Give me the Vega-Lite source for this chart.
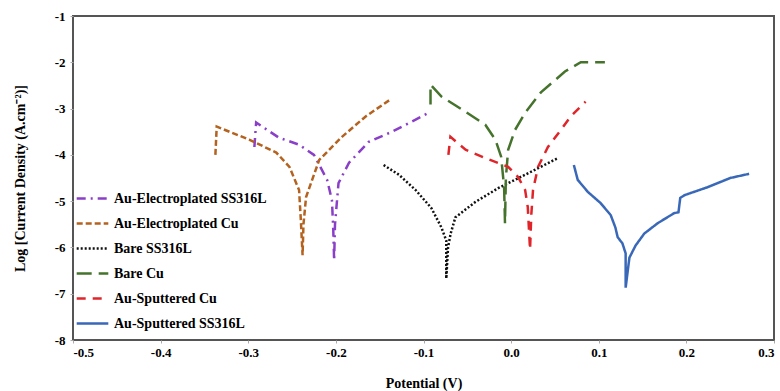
{
  "$schema": "https://vega.github.io/schema/vega-lite/v6.json",
  "width": 701,
  "height": 324,
  "autosize": "none",
  "padding": {"left": 73, "top": 16, "right": 6, "bottom": 51},
  "background": "white",
  "config": {
    "font": "Liberation Serif",
    "view": {"stroke": "#555555", "strokeWidth": 2},
    "axis": {"grid": false, "domain": false, "labelFont": "Liberation Serif", "labelFontWeight": "bold", "labelFontSize": 13, "labelColor": "#000", "titleFont": "Liberation Serif", "titleFontWeight": "bold", "titleColor": "#000", "tickColor": "#aaaaaa", "tickSize": 3, "labelExpr": "replace(datum.label, '−', '-')"}
  },
  "data": {"values": [
    {"s": "Au-Electroplated SS316L", "i": 1, "x": -0.293, "y": -3.83},
    {"s": "Au-Electroplated SS316L", "i": 2, "x": -0.291, "y": -3.30},
    {"s": "Au-Electroplated SS316L", "i": 3, "x": -0.265, "y": -3.63},
    {"s": "Au-Electroplated SS316L", "i": 4, "x": -0.242, "y": -3.78},
    {"s": "Au-Electroplated SS316L", "i": 5, "x": -0.225, "y": -4.0},
    {"s": "Au-Electroplated SS316L", "i": 6, "x": -0.210, "y": -4.54},
    {"s": "Au-Electroplated SS316L", "i": 7, "x": -0.2045, "y": -4.98},
    {"s": "Au-Electroplated SS316L", "i": 8, "x": -0.203, "y": -5.6},
    {"s": "Au-Electroplated SS316L", "i": 9, "x": -0.202, "y": -6.28},
    {"s": "Au-Electroplated SS316L", "i": 10, "x": -0.201, "y": -5.5},
    {"s": "Au-Electroplated SS316L", "i": 11, "x": -0.197, "y": -4.61},
    {"s": "Au-Electroplated SS316L", "i": 12, "x": -0.185, "y": -4.17},
    {"s": "Au-Electroplated SS316L", "i": 13, "x": -0.1625, "y": -3.72},
    {"s": "Au-Electroplated SS316L", "i": 14, "x": -0.136, "y": -3.5},
    {"s": "Au-Electroplated SS316L", "i": 15, "x": -0.109, "y": -3.24},
    {"s": "Au-Electroplated SS316L", "i": 16, "x": -0.092, "y": -3.07},

    {"s": "Au-Electroplated Cu", "i": 1, "x": -0.3375, "y": -4.0},
    {"s": "Au-Electroplated Cu", "i": 2, "x": -0.336, "y": -3.39},
    {"s": "Au-Electroplated Cu", "i": 3, "x": -0.299, "y": -3.67},
    {"s": "Au-Electroplated Cu", "i": 4, "x": -0.268, "y": -3.95},
    {"s": "Au-Electroplated Cu", "i": 5, "x": -0.253, "y": -4.26},
    {"s": "Au-Electroplated Cu", "i": 6, "x": -0.242, "y": -4.76},
    {"s": "Au-Electroplated Cu", "i": 7, "x": -0.240, "y": -5.4},
    {"s": "Au-Electroplated Cu", "i": 8, "x": -0.238, "y": -6.17},
    {"s": "Au-Electroplated Cu", "i": 9, "x": -0.237, "y": -5.5},
    {"s": "Au-Electroplated Cu", "i": 10, "x": -0.234, "y": -4.91},
    {"s": "Au-Electroplated Cu", "i": 11, "x": -0.219, "y": -4.11},
    {"s": "Au-Electroplated Cu", "i": 12, "x": -0.193, "y": -3.61},
    {"s": "Au-Electroplated Cu", "i": 13, "x": -0.166, "y": -3.17},
    {"s": "Au-Electroplated Cu", "i": 14, "x": -0.1375, "y": -2.80},

    {"s": "Bare SS316L", "i": 1, "x": -0.1455, "y": -4.22},
    {"s": "Bare SS316L", "i": 2, "x": -0.128, "y": -4.43},
    {"s": "Bare SS316L", "i": 3, "x": -0.109, "y": -4.76},
    {"s": "Bare SS316L", "i": 4, "x": -0.091, "y": -5.15},
    {"s": "Bare SS316L", "i": 5, "x": -0.0795, "y": -5.57},
    {"s": "Bare SS316L", "i": 6, "x": -0.074, "y": -5.85},
    {"s": "Bare SS316L", "i": 7, "x": -0.074, "y": -6.67},
    {"s": "Bare SS316L", "i": 8, "x": -0.072, "y": -6.0},
    {"s": "Bare SS316L", "i": 9, "x": -0.069, "y": -5.7},
    {"s": "Bare SS316L", "i": 10, "x": -0.0636, "y": -5.35},
    {"s": "Bare SS316L", "i": 11, "x": -0.041, "y": -5.02},
    {"s": "Bare SS316L", "i": 12, "x": -0.0148, "y": -4.72},
    {"s": "Bare SS316L", "i": 13, "x": 0.016, "y": -4.43},
    {"s": "Bare SS316L", "i": 14, "x": 0.0534, "y": -4.07},

    {"s": "Bare Cu", "i": 1, "x": -0.092, "y": -2.91},
    {"s": "Bare Cu", "i": 2, "x": -0.092, "y": -2.48},
    {"s": "Bare Cu", "i": 3, "x": -0.0795, "y": -2.74},
    {"s": "Bare Cu", "i": 4, "x": -0.052, "y": -3.07},
    {"s": "Bare Cu", "i": 5, "x": -0.0295, "y": -3.35},
    {"s": "Bare Cu", "i": 6, "x": -0.018, "y": -3.67},
    {"s": "Bare Cu", "i": 7, "x": -0.0114, "y": -4.04},
    {"s": "Bare Cu", "i": 8, "x": -0.008, "y": -4.7},
    {"s": "Bare Cu", "i": 9, "x": -0.007, "y": -5.48},
    {"s": "Bare Cu", "i": 10, "x": -0.006, "y": -4.5},
    {"s": "Bare Cu", "i": 11, "x": -0.0034, "y": -3.89},
    {"s": "Bare Cu", "i": 12, "x": 0.0045, "y": -3.46},
    {"s": "Bare Cu", "i": 13, "x": 0.016, "y": -3.09},
    {"s": "Bare Cu", "i": 14, "x": 0.034, "y": -2.65},
    {"s": "Bare Cu", "i": 15, "x": 0.0614, "y": -2.20},
    {"s": "Bare Cu", "i": 16, "x": 0.0795, "y": -2.0},
    {"s": "Bare Cu", "i": 17, "x": 0.107, "y": -2.0},

    {"s": "Au-Sputtered Cu", "i": 1, "x": -0.0716, "y": -4.0},
    {"s": "Au-Sputtered Cu", "i": 2, "x": -0.0693, "y": -3.61},
    {"s": "Au-Sputtered Cu", "i": 3, "x": -0.052, "y": -3.89},
    {"s": "Au-Sputtered Cu", "i": 4, "x": -0.0295, "y": -4.07},
    {"s": "Au-Sputtered Cu", "i": 5, "x": -0.0034, "y": -4.26},
    {"s": "Au-Sputtered Cu", "i": 6, "x": 0.008, "y": -4.48},
    {"s": "Au-Sputtered Cu", "i": 7, "x": 0.016, "y": -4.76},
    {"s": "Au-Sputtered Cu", "i": 8, "x": 0.019, "y": -5.13},
    {"s": "Au-Sputtered Cu", "i": 9, "x": 0.0216, "y": -6.05},
    {"s": "Au-Sputtered Cu", "i": 10, "x": 0.023, "y": -5.3},
    {"s": "Au-Sputtered Cu", "i": 11, "x": 0.025, "y": -4.76},
    {"s": "Au-Sputtered Cu", "i": 12, "x": 0.0307, "y": -4.26},
    {"s": "Au-Sputtered Cu", "i": 13, "x": 0.042, "y": -3.83},
    {"s": "Au-Sputtered Cu", "i": 14, "x": 0.0568, "y": -3.46},
    {"s": "Au-Sputtered Cu", "i": 15, "x": 0.068, "y": -3.17},
    {"s": "Au-Sputtered Cu", "i": 16, "x": 0.085, "y": -2.85},

    {"s": "Au-Sputtered SS316L", "i": 1, "x": 0.0716, "y": -4.22},
    {"s": "Au-Sputtered SS316L", "i": 2, "x": 0.076, "y": -4.54},
    {"s": "Au-Sputtered SS316L", "i": 3, "x": 0.0875, "y": -4.80},
    {"s": "Au-Sputtered SS316L", "i": 4, "x": 0.102, "y": -5.04},
    {"s": "Au-Sputtered SS316L", "i": 5, "x": 0.1136, "y": -5.30},
    {"s": "Au-Sputtered SS316L", "i": 6, "x": 0.119, "y": -5.57},
    {"s": "Au-Sputtered SS316L", "i": 7, "x": 0.1216, "y": -5.78},
    {"s": "Au-Sputtered SS316L", "i": 8, "x": 0.127, "y": -5.91},
    {"s": "Au-Sputtered SS316L", "i": 9, "x": 0.1307, "y": -6.13},
    {"s": "Au-Sputtered SS316L", "i": 10, "x": 0.1307, "y": -6.87},
    {"s": "Au-Sputtered SS316L", "i": 11, "x": 0.135, "y": -6.22},
    {"s": "Au-Sputtered SS316L", "i": 12, "x": 0.142, "y": -5.96},
    {"s": "Au-Sputtered SS316L", "i": 13, "x": 0.152, "y": -5.70},
    {"s": "Au-Sputtered SS316L", "i": 14, "x": 0.167, "y": -5.48},
    {"s": "Au-Sputtered SS316L", "i": 15, "x": 0.186, "y": -5.26},
    {"s": "Au-Sputtered SS316L", "i": 16, "x": 0.191, "y": -5.24},
    {"s": "Au-Sputtered SS316L", "i": 17, "x": 0.193, "y": -4.93},
    {"s": "Au-Sputtered SS316L", "i": 18, "x": 0.198, "y": -4.87},
    {"s": "Au-Sputtered SS316L", "i": 19, "x": 0.224, "y": -4.70},
    {"s": "Au-Sputtered SS316L", "i": 20, "x": 0.25, "y": -4.50},
    {"s": "Au-Sputtered SS316L", "i": 21, "x": 0.2716, "y": -4.41}
  ]},
  "mark": {"type": "line", "strokeWidth": 2.5},
  "encoding": {
    "x": {"field": "x", "type": "quantitative", "scale": {"domain": [-0.5, 0.3], "nice": false, "zero": false},
      "axis": {"values": [-0.5, -0.4, -0.3, -0.2, -0.1, 0, 0.1, 0.2, 0.3], "title": "Potential (V)", "titleFontSize": 14, "titlePadding": 17, "labelPadding": 3}},
    "y": {"field": "y", "type": "quantitative", "scale": {"domain": [-8, -1], "nice": false, "zero": false},
      "axis": {"values": [-8, -7, -6, -5, -4, -3, -2, -1], "title": "Log [Current Density (A.cm⁻²)]", "titleFontSize": 14, "titlePadding": 27, "labelPadding": 5}},
    "order": {"field": "i", "type": "quantitative"},
    "color": {"field": "s", "type": "nominal",
      "scale": {"domain": ["Au-Electroplated SS316L", "Au-Electroplated Cu", "Bare SS316L", "Bare Cu", "Au-Sputtered Cu", "Au-Sputtered SS316L"],
                "range": ["#8a3fc8", "#b4621f", "#111111", "#45732c", "#e0252a", "#3a68b8"]},
      "legend": {"orient": "none", "legendX": 2, "legendY": 165, "title": null, "symbolType": "stroke", "symbolSize": 1000, "symbolStrokeWidth": 2.5, "labelFont": "Liberation Serif", "labelFontWeight": "bold", "labelFontSize": 14, "labelColor": "#000", "labelOffset": 4, "rowPadding": -7, "labelLimit": 300}},
    "strokeDash": {"field": "s", "type": "nominal",
      "scale": {"domain": ["Au-Electroplated SS316L", "Au-Electroplated Cu", "Bare SS316L", "Bare Cu", "Au-Sputtered Cu", "Au-Sputtered SS316L"],
                "range": [[9, 5, 2, 5], [6, 3], [2, 2], [15, 7], [9, 7], [1, 0]]},
      "legend": null}
  }
}
